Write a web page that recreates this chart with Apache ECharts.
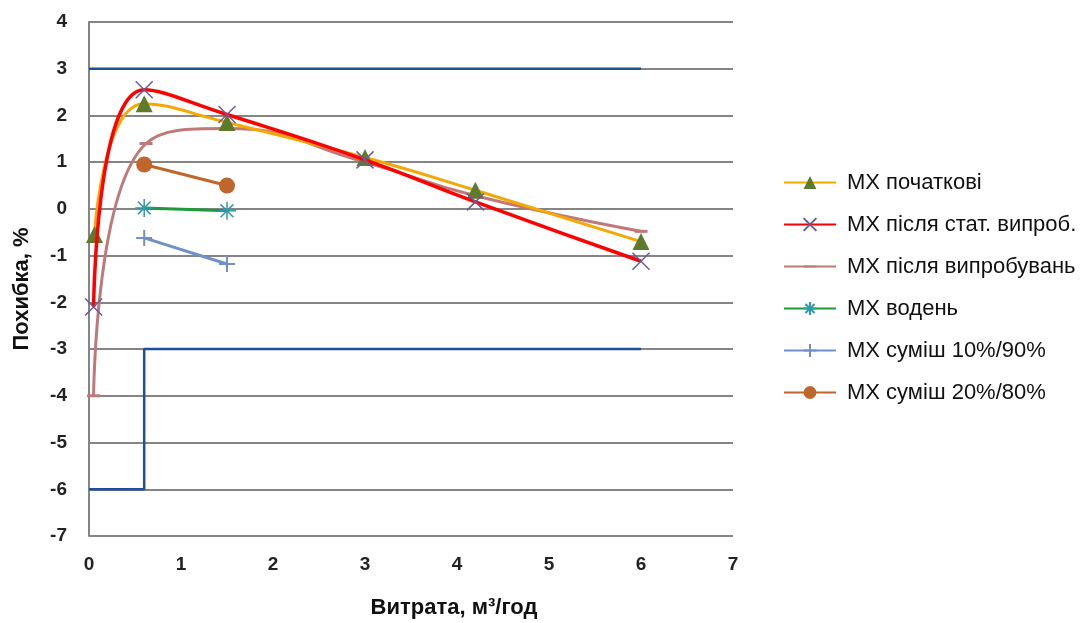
<!DOCTYPE html>
<html><head><meta charset="utf-8">
<script src="https://cdn.jsdelivr.net/npm/echarts@6/dist/echarts.min.js"></script>
<style>html,body{margin:0;padding:0;background:#fff}#c{width:1089px;height:623px}</style>
</head><body><div id="c"></div>
<script>
// Data
const xTicks = [0, 1, 2, 3, 4, 5, 6, 7];
const yTicks = [-7, -6, -5, -4, -3, -2, -1, 0, 1, 2, 3, 4];

const xMain = [0.06, 0.6, 1.5, 3.0, 4.2, 6.0];
const yInitial = [-0.55, 2.25, 1.85, 1.1, 0.4, -0.7];
const xStat = [0.05, 0.6, 1.5, 3.0, 4.2, 6.0];
const yStat = [-2.1, 2.55, 2.02, 1.05, 0.15, -1.12];
const xAfter = [0.05, 0.62, 1.5, 3.0, 4.2, 6.0];
const yAfter = [-4.0, 1.4, 1.72, 1.0, 0.28, -0.48];

const xShort = [0.6, 1.5];
const yHydrogen = [0.02, -0.04];
const yMix10 = [-0.62, -1.18];
const yMix20 = [0.95, 0.5];

const xTolUpper = [0, 6.0];
const yTolUpper = [3, 3];
const xTolLower = [0, 0.6, 0.6, 6.0];
const yTolLower = [-6, -6, -3, -3];

const names = ['МХ початкові', 'МХ після стат. випроб.', 'МХ після випробувань', 'МХ водень', 'МХ суміш 10%/90%', 'МХ суміш 20%/80%'];
const xTitle = 'Витрата, м³/год';
const yTitle = 'Похибка, %';

const pairs = (xs, ys) => xs.map((x, i) => [x, ys[i]]);

const FONT = 'Liberation Sans, Arial, sans-serif';
const chart = echarts.init(document.getElementById('c'));
chart.setOption({
  animation: false,
  backgroundColor: '#fff',
  grid: { left: 89, right: 356, top: 22, bottom: 87, containLabel: false },
  xAxis: {
    type: 'value', min: 0, max: 7, interval: 1,
    axisLine: { show: false }, axisTick: { show: false },
    splitLine: { show: false },
    axisLabel: { fontFamily: FONT, fontSize: 19, fontWeight: 'bold', color: '#222', margin: 19 }
  },
  yAxis: {
    type: 'value', min: -7, max: 4, interval: 1,
    axisLine: { show: true, lineStyle: { color: '#858585', width: 2 } },
    axisTick: { show: false },
    splitLine: { show: true, lineStyle: { color: '#858585', width: 2 } },
    axisLabel: { fontFamily: FONT, fontSize: 19, fontWeight: 'bold', color: '#222', margin: 22 }
  },
  legend: {
    orient: 'vertical', left: 778, top: 165,
    itemWidth: 52, itemHeight: 16, itemGap: 17,
    data: names,
    textStyle: { fontFamily: FONT, fontSize: 22, color: '#111', lineHeight: 25, padding: [0, 0, 0, 6] }
  },
  graphic: [
    { type: 'text', x: 454, y: 608,
      style: { text: xTitle, fontFamily: FONT, fontSize: 22, fontWeight: 'bold', fill: '#111', align: 'center', verticalAlign: 'middle' } },
    { type: 'text', x: 22, y: 289, rotation: Math.PI / 2,
      style: { text: yTitle, fontFamily: FONT, fontSize: 22, fontWeight: 'bold', fill: '#111', align: 'center', verticalAlign: 'middle' } }
  ],
  series: [
    { type: 'line', data: pairs(xTolUpper, yTolUpper), symbol: 'none', silent: true,
      lineStyle: { color: '#1F4E9A', width: 2.5 }, z: 1 },
    { type: 'line', data: pairs(xTolLower, yTolLower), symbol: 'none', silent: true,
      lineStyle: { color: '#1F4E9A', width: 2.5 }, z: 1 },
    { name: names[0], type: 'line', smooth: 0.5, data: pairs(xMain, yInitial),
      symbol: 'triangle', symbolSize: 17,
      itemStyle: { color: '#5E7B2C' }, lineStyle: { color: '#F5A800', width: 3 }, z: 3 },
    { name: names[1], type: 'line', smooth: 0.5, data: pairs(xStat, yStat),
      symbol: 'path://M0,0L16,16M16,0L0,16', symbolSize: 17,
      itemStyle: { color: '#6B5B9A', borderColor: '#6B5B9A', borderWidth: 1.5 },
      lineStyle: { color: '#FF0000', width: 3.5 }, z: 4 },
    { name: names[2], type: 'line', smooth: 0.5, data: pairs(xAfter, yAfter),
      symbol: 'path://M0,0M0,16M0,8L16,8', symbolSize: 13,
      itemStyle: { color: '#C07878', borderColor: '#C07878', borderWidth: 3 },
      lineStyle: { color: '#C07878', width: 3 }, z: 2 },
    { name: names[3], type: 'line', data: pairs(xShort, yHydrogen),
      symbol: 'path://M8,0L8,16M2.3,2.3L13.7,13.7M13.7,2.3L2.3,13.7M0,8L16,8', symbolSize: 18,
      itemStyle: { color: '#2E9AAA', borderColor: '#2E9AAA', borderWidth: 1.5 },
      lineStyle: { color: '#1E9A3A', width: 3 }, z: 3 },
    { name: names[4], type: 'line', data: pairs(xShort, yMix10),
      symbol: 'path://M8,0L8,16M0,8L16,8', symbolSize: 16,
      itemStyle: { color: '#7090C8', borderColor: '#7090C8', borderWidth: 2 },
      lineStyle: { color: '#7090C8', width: 3 }, z: 3 },
    { name: names[5], type: 'line', data: pairs(xShort, yMix20),
      symbol: 'circle', symbolSize: 16,
      itemStyle: { color: '#C0652B' }, lineStyle: { color: '#C0652B', width: 3 }, z: 3 }
  ]
});
</script></body></html>
